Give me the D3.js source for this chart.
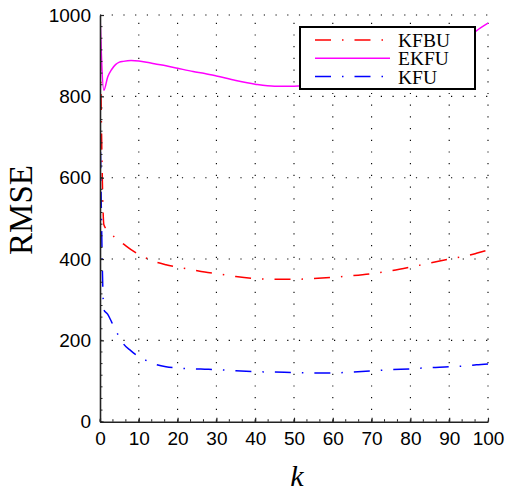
<!DOCTYPE html>
<html>
<head>
<meta charset="utf-8">
<script src="https://cdn.jsdelivr.net/npm/d3@7"></script>
<style>
  body { margin: 0; background: #fff; }
  svg { display: block; }
</style>
</head>
<body>
<div id="chart"></div>
<script>
const kSteps = [0, 1, 2, 3, 4, 5, 6, 8, 10, 12, 14, 17, 20, 24, 27, 30, 35, 40, 45, 50,
                55, 60, 65, 70, 75, 80, 85, 90, 95, 97, 100];
const kfbuVals = [1000, 484, 470, 460, 452, 444, 437, 423, 411, 402, 394, 386, 380, 373, 368, 364, 357, 352, 350, 350,
                  352, 355, 359, 364, 371, 380, 390, 400, 409, 414, 422];
const ekfuVals = [1000, 815, 848, 866, 878, 884, 886, 888, 887, 884, 880, 875, 869, 861, 856, 850, 839, 830, 825, 825,
                  827, 832, 840, 850, 862, 876, 893, 914, 945, 961, 980];
const kfuVals = [760, 275, 264, 245, 225, 208, 192, 174, 160, 150, 142, 135, 132, 130, 129, 128, 125, 123, 122, 121,
                 120, 120, 122, 125, 128, 130, 133, 135, 138, 140, 142];
const seriesNames = ["KFBU", "EKFU", "KFU"];
const seriesColors = ["#ff0000", "#ff00ff", "#0000ff"];
const xTicks = [0, 10, 20, 30, 40, 50, 60, 70, 80, 90, 100];
const yTicks = [0, 200, 400, 600, 800, 1000];

const width = 506, height = 492;

const svg = d3.select("#chart").append("svg")
    .attr("width", width)
    .attr("height", height);

const x = d3.scaleLinear().domain([0, 100]).range([100, 488]);
const y = d3.scaleLinear().domain([0, 1000]).range([421.7, 15]);

//dotted grid, matlab style
const grid = svg.append("g");
grid.selectAll(".vg")
    .data(xTicks.slice(1))
    .enter().append("line")
    .attr("x1", d => x(d)).attr("x2", d => x(d))
    .attr("y1", y(0)).attr("y2", y(1000))
    .attr("stroke", "#000")
    .attr("stroke-width", 1.1)
    .attr("stroke-dasharray", "1.2,10.5");
grid.selectAll(".hg")
    .data(yTicks.slice(1))
    .enter().append("line")
    .attr("x1", x(0)).attr("x2", x(100))
    .attr("y1", d => y(d)).attr("y2", d => y(d))
    .attr("stroke", "#000")
    .attr("stroke-width", 1.1)
    .attr("stroke-dasharray", "1.2,10.5");

svg.append("clipPath").attr("id", "plotclip")
    .append("rect")
    .attr("x", x(0)).attr("y", y(1000) - 1)
    .attr("width", x(100) - x(0) + 1).attr("height", y(0) - y(1000) + 1);

const line = d3.line()
    .x(d => x(d[0]))
    .y(d => y(d[1]))
    .curve(d3.curveMonotoneX);

const allVals = [kfbuVals, ekfuVals, kfuVals];
const dashes = ["16,11,1.5,11", null, "16,11,1.5,11"];

svg.append("g").attr("clip-path", "url(#plotclip)")
    .selectAll("path")
    .data(allVals)
    .enter().append("path")
    .attr("d", vals => line(kSteps.map((k, i) => [k, vals[i]])))
    .attr("fill", "none")
    .attr("stroke", (d, i) => seriesColors[i])
    .attr("stroke-width", 1.5)
    .attr("stroke-dasharray", (d, i) => dashes[i]);

// axes - ticks point inward
const xAxis = svg.append("g")
    .attr("transform", "translate(0," + y(0) + ")")
    .call(d3.axisBottom(x).tickValues(xTicks).tickFormat(d3.format("d"))
        .tickSizeInner(-4).tickSizeOuter(0).tickPadding(10));
const yAxis = svg.append("g")
    .attr("transform", "translate(" + x(0) + ",0)")
    .call(d3.axisLeft(y).tickValues(yTicks).tickFormat(d3.format("d"))
        .tickSizeInner(-4).tickSizeOuter(0).tickPadding(9));

[xAxis, yAxis].forEach(ax => {
    ax.select(".domain").attr("stroke", "#222").attr("stroke-width", 1.6);
    ax.selectAll(".tick line").attr("stroke", "#222").attr("stroke-width", 1.2);
    ax.selectAll("text")
        .attr("fill", "#000")
        .style("font-family", "'Liberation Sans', Arial, sans-serif")
        .style("font-size", "19px");
});

// minor ticks
svg.append("g").selectAll("line")
    .data(d3.range(0, 100, 10 / 3))
    .enter().append("line")
    .attr("x1", d => x(d)).attr("x2", d => x(d))
    .attr("y1", y(0)).attr("y2", y(0) - 2.5)
    .attr("stroke", "#222");
svg.append("g").selectAll("line")
    .data(d3.range(0, 1000, 200 / 7))
    .enter().append("line")
    .attr("x1", x(0)).attr("x2", x(0) + 2.5)
    .attr("y1", d => y(d)).attr("y2", d => y(d))
    .attr("stroke", "#222");

// axis titles
svg.append("text")
    .attr("transform", "translate(32,210) rotate(-90)")
    .attr("text-anchor", "middle")
    .style("font-family", "'Liberation Serif', 'Times New Roman', serif")
    .style("font-size", "33px")
    .text("RMSE");
svg.append("text")
    .attr("x", 297).attr("y", 486)
    .attr("text-anchor", "middle")
    .style("font-family", "'Liberation Serif', 'Times New Roman', serif")
    .style("font-style", "italic")
    .style("font-size", "30px")
    .text("k");

// legend
const legend = svg.append("g");
legend.append("rect")
    .attr("x", 300).attr("y", 27)
    .attr("width", 175).attr("height", 62)
    .attr("fill", "#fff")
    .attr("stroke", "#000")
    .attr("stroke-width", 2);
const rows = legend.selectAll(".row")
    .data(seriesNames)
    .enter().append("g")
    .attr("transform", (d, i) => "translate(0," + (40 + i * 18.3) + ")");
rows.append("line")
    .attr("x1", 315).attr("x2", 390)
    .attr("stroke", (d, i) => seriesColors[i])
    .attr("stroke-width", 1.5)
    .attr("stroke-dasharray", (d, i) => dashes[i]);
rows.append("text")
    .attr("x", 398).attr("y", 7)
    .style("font-family", "'Liberation Serif', 'Times New Roman', serif")
    .style("font-size", "19.5px")
    .text(d => d);
</script>
</body>
</html>
